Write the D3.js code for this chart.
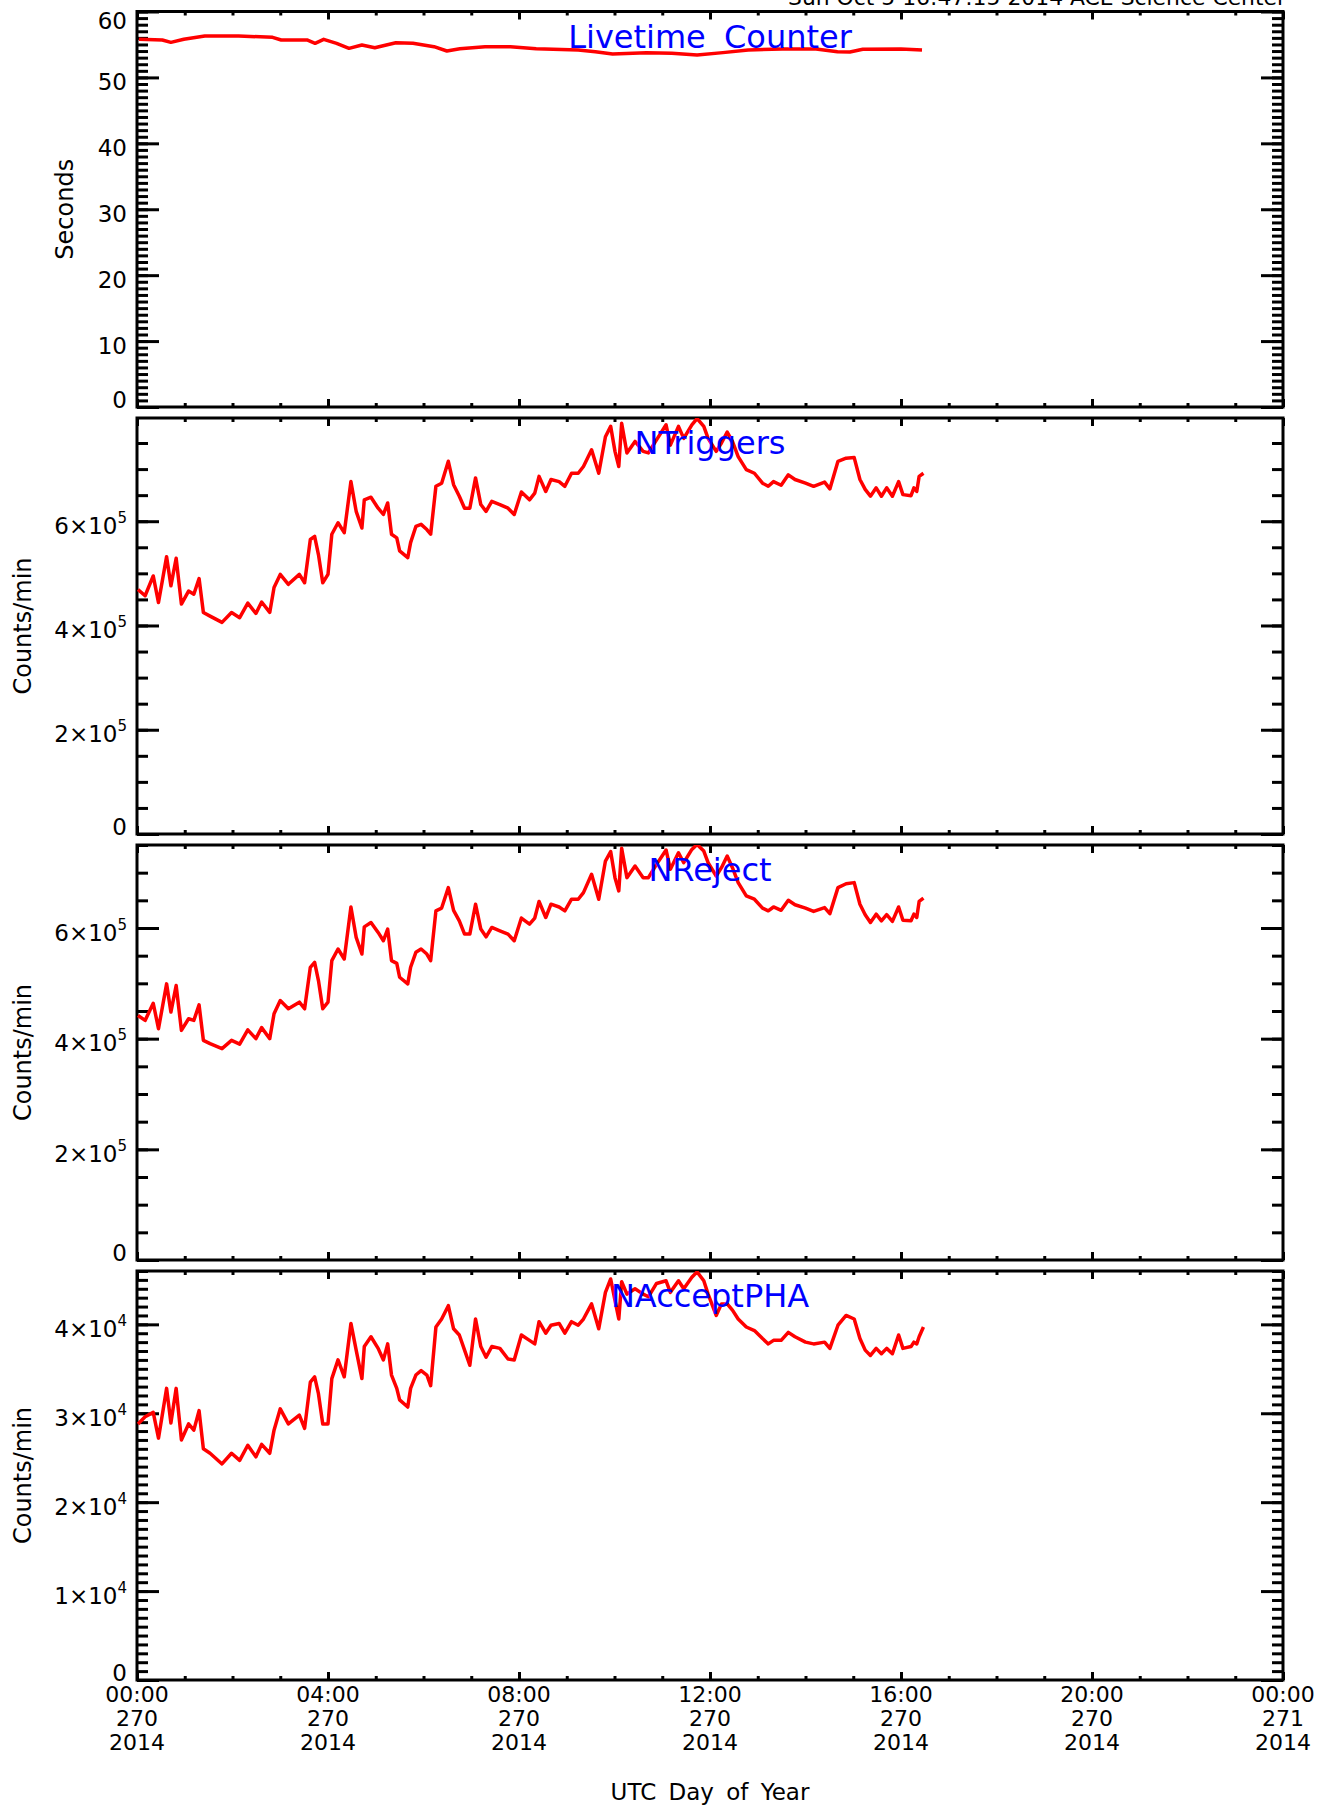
<!DOCTYPE html>
<html>
<head>
<meta charset="utf-8">
<script src="https://cdn.jsdelivr.net/npm/d3@7"></script>
<style>
  body { margin: 0; background: #fff; }
  text { font-family: "DejaVu Sans", sans-serif; }
</style>
</head>
<body>
<div id="chart"></div>
<script>
// Livetime counter samples (hours since 00:00 day 270)
const liveHours = [0.04, 0.53, 0.71, 0.98, 1.42, 2.13, 2.84, 3.02, 3.56, 3.73, 3.91, 4.18, 4.44, 4.71, 4.98,
  5.42, 5.78, 6.22, 6.49, 6.76, 7.29, 7.82, 8.36, 9.24, 9.6, 9.96, 10.67, 11.2, 11.73, 12.27, 12.8, 13.51,
  14.22, 14.67, 14.93, 15.2, 16.0, 16.44];
const liveSeconds = [55.78, 55.68, 55.32, 55.78, 56.28, 56.28, 56.08, 55.68, 55.68, 55.17, 55.78, 55.17, 54.41,
  54.92, 54.51, 55.27, 55.17, 54.66, 54.01, 54.36, 54.66, 54.66, 54.36, 54.16, 53.91, 53.55, 53.76, 53.65,
  53.40, 53.76, 54.16, 54.31, 54.31, 53.91, 53.86, 54.26, 54.31, 54.16];

// count-rate samples (hours), shared by the three count panels
const countHours = [0.02, 0.17, 0.34, 0.45, 0.62, 0.71, 0.82, 0.93, 1.08, 1.19, 1.30, 1.39, 1.53, 1.78, 1.98,
  2.15, 2.32, 2.49, 2.61, 2.78, 2.87, 3.00, 3.17, 3.40, 3.51, 3.63, 3.72, 3.80, 3.89, 4.00, 4.08, 4.21, 4.34,
  4.48, 4.59, 4.71, 4.76, 4.90, 5.05, 5.16, 5.25, 5.33, 5.44, 5.50, 5.67, 5.73, 5.84, 5.95, 6.07, 6.15, 6.26,
  6.38, 6.52, 6.63, 6.75, 6.86, 6.97, 7.09, 7.20, 7.31, 7.43, 7.60, 7.77, 7.90, 8.05, 8.22, 8.33, 8.42, 8.56,
  8.67, 8.84, 8.96, 9.10, 9.24, 9.35, 9.52, 9.67, 9.81, 9.92, 10.01, 10.09, 10.15, 10.26, 10.43, 10.60, 10.71,
  10.88, 11.08, 11.17, 11.34, 11.45, 11.62, 11.73, 11.87, 11.96, 12.13, 12.24, 12.36, 12.47, 12.59, 12.76,
  12.93, 13.10, 13.22, 13.33, 13.49, 13.64, 13.78, 14.00, 14.17, 14.40, 14.51, 14.68, 14.85, 15.02, 15.14,
  15.25, 15.36, 15.48, 15.59, 15.70, 15.82, 15.95, 16.04, 16.21, 16.27, 16.33, 16.38, 16.47];

const nTriggers = [4.69e5, 4.57e5, 4.95e5, 4.44e5, 5.32e5, 4.76e5, 5.29e5, 4.41e5, 4.66e5, 4.60e5, 4.90e5, 4.25e5,
  4.18e5, 4.06e5, 4.25e5, 4.15e5, 4.43e5, 4.23e5, 4.45e5, 4.25e5, 4.73e5, 4.98e5, 4.79e5, 4.98e5, 4.82e5, 5.65e5,
  5.71e5, 5.36e5, 4.82e5, 4.98e5, 5.75e5, 5.97e5, 5.78e5, 6.76e5, 6.19e5, 5.87e5, 6.41e5, 6.46e5, 6.25e5, 6.13e5,
  6.35e5, 5.75e5, 5.68e5, 5.43e5, 5.30e5, 5.59e5, 5.90e5, 5.94e5, 5.84e5, 5.75e5, 6.67e5, 6.73e5, 7.15e5, 6.70e5,
  6.48e5, 6.25e5, 6.25e5, 6.83e5, 6.32e5, 6.19e5, 6.38e5, 6.32e5, 6.25e5, 6.13e5, 6.56e5, 6.41e5, 6.54e5, 6.86e5,
  6.57e5, 6.80e5, 6.76e5, 6.67e5, 6.92e5, 6.92e5, 7.05e5, 7.37e5, 6.92e5, 7.62e5, 7.82e5, 7.34e5, 7.05e5, 7.88e5,
  7.31e5, 7.53e5, 7.34e5, 7.31e5, 7.56e5, 7.85e5, 7.46e5, 7.82e5, 7.59e5, 7.85e5, 7.97e5, 7.82e5, 7.59e5, 7.34e5,
  7.50e5, 7.71e5, 7.53e5, 7.24e5, 6.99e5, 6.92e5, 6.73e5, 6.67e5, 6.76e5, 6.69e5, 6.89e5, 6.80e5, 6.73e5, 6.67e5,
  6.75e5, 6.62e5, 7.15e5, 7.21e5, 7.22e5, 6.80e5, 6.61e5, 6.48e5, 6.64e5, 6.48e5, 6.64e5, 6.48e5, 6.76e5, 6.51e5,
  6.49e5, 6.64e5, 6.57e5, 6.86e5, 6.92e5];

const nReject = [4.42e5, 4.33e5, 4.64e5, 4.18e5, 4.99e5, 4.48e5, 4.96e5, 4.15e5, 4.36e5, 4.33e5, 4.61e5, 3.97e5,
  3.91e5, 3.82e5, 3.97e5, 3.90e5, 4.16e5, 4.00e5, 4.20e5, 4.00e5, 4.45e5, 4.69e5, 4.54e5, 4.66e5, 4.54e5, 5.29e5,
  5.38e5, 5.05e5, 4.54e5, 4.66e5, 5.41e5, 5.62e5, 5.44e5, 6.38e5, 5.83e5, 5.53e5, 6.02e5, 6.10e5, 5.92e5, 5.77e5,
  5.98e5, 5.41e5, 5.36e5, 5.11e5, 4.99e5, 5.29e5, 5.56e5, 5.62e5, 5.53e5, 5.41e5, 6.31e5, 6.36e5, 6.73e5, 6.32e5,
  6.13e5, 5.89e5, 5.89e5, 6.43e5, 5.98e5, 5.84e5, 6.01e5, 5.95e5, 5.89e5, 5.77e5, 6.18e5, 6.07e5, 6.18e5, 6.48e5,
  6.19e5, 6.43e5, 6.38e5, 6.31e5, 6.52e5, 6.52e5, 6.64e5, 6.97e5, 6.52e5, 7.21e5, 7.38e5, 6.91e5, 6.67e5, 7.44e5,
  6.91e5, 7.12e5, 6.91e5, 6.91e5, 7.15e5, 7.41e5, 7.06e5, 7.36e5, 7.18e5, 7.42e5, 7.51e5, 7.39e5, 7.18e5, 6.94e5,
  7.09e5, 7.30e5, 7.09e5, 6.82e5, 6.58e5, 6.52e5, 6.36e5, 6.31e5, 6.38e5, 6.32e5, 6.50e5, 6.42e5, 6.36e5, 6.30e5,
  6.37e5, 6.26e5, 6.73e5, 6.80e5, 6.82e5, 6.43e5, 6.24e5, 6.10e5, 6.25e5, 6.13e5, 6.24e5, 6.12e5, 6.38e5, 6.14e5,
  6.13e5, 6.25e5, 6.19e5, 6.48e5, 6.54e5];

const nAcceptPHA = [2.88e4, 2.96e4, 3.01e4, 2.72e4, 3.28e4, 2.89e4, 3.28e4, 2.70e4, 2.88e4, 2.81e4, 3.03e4, 2.60e4,
  2.55e4, 2.43e4, 2.55e4, 2.47e4, 2.64e4, 2.51e4, 2.65e4, 2.55e4, 2.81e4, 3.05e4, 2.88e4, 2.98e4, 2.83e4, 3.35e4,
  3.41e4, 3.22e4, 2.88e4, 2.88e4, 3.39e4, 3.60e4, 3.41e4, 4.01e4, 3.71e4, 3.39e4, 3.75e4, 3.86e4, 3.73e4, 3.60e4,
  3.78e4, 3.43e4, 3.28e4, 3.15e4, 3.07e4, 3.28e4, 3.43e4, 3.48e4, 3.43e4, 3.31e4, 3.97e4, 4.06e4, 4.21e4, 3.95e4,
  3.88e4, 3.71e4, 3.54e4, 4.06e4, 3.75e4, 3.63e4, 3.75e4, 3.73e4, 3.61e4, 3.60e4, 3.88e4, 3.82e4, 3.78e4, 4.03e4,
  3.90e4, 3.99e4, 4.01e4, 3.90e4, 4.03e4, 3.99e4, 4.06e4, 4.23e4, 3.95e4, 4.36e4, 4.51e4, 4.27e4, 4.06e4, 4.48e4,
  4.34e4, 4.40e4, 4.34e4, 4.31e4, 4.46e4, 4.49e4, 4.36e4, 4.49e4, 4.40e4, 4.53e4, 4.59e4, 4.49e4, 4.34e4, 4.10e4,
  4.23e4, 4.23e4, 4.16e4, 4.06e4, 3.97e4, 3.93e4, 3.84e4, 3.78e4, 3.82e4, 3.82e4, 3.91e4, 3.86e4, 3.80e4, 3.78e4,
  3.80e4, 3.73e4, 3.99e4, 4.10e4, 4.06e4, 3.84e4, 3.71e4, 3.65e4, 3.73e4, 3.67e4, 3.73e4, 3.67e4, 3.88e4, 3.73e4,
  3.75e4, 3.80e4, 3.78e4, 3.86e4, 3.97e4];

// x tick labels
const xTickHours = [0, 4, 8, 12, 16, 20, 24];
const xTickTimes = ['00:00', '04:00', '08:00', '12:00', '16:00', '20:00', '00:00'];
const xTickDays = ['270', '270', '270', '270', '270', '270', '271'];
const xTickYears = ['2014', '2014', '2014', '2014', '2014', '2014', '2014'];

const panelTitles = ['Livetime Counter', 'NTriggers', 'NReject', 'NAcceptPHA'];
const panelYTitles = ['Seconds', 'Counts/min', 'Counts/min', 'Counts/min'];

let width = 1333, height = 1806;
let left = 137, right = 1283;

let svg = d3.select('#chart')
  .append('svg')
  .attr('width', width)
  .attr('height', height);

svg.append('rect').attr('width', width).attr('height', height).attr('fill', 'white');

let xScale = d3.scaleLinear().domain([0, 24]).range([left, right]);

// panel layout + axis settings
let panels = [
  {top: 11.5, bottom: 407, max: 60, major: 10, minor: 1, exp: 0, ytx: 65, x: liveHours, y: liveSeconds},
  {top: 418, bottom: 834, max: 7.98e5, major: 2e5, minor: 5e4, exp: 5, ytx: 23, x: countHours, y: nTriggers},
  {top: 845, bottom: 1260, max: 7.5e5, major: 2e5, minor: 5e4, exp: 5, ytx: 23, x: countHours, y: nReject},
  {top: 1271, bottom: 1680, max: 4.6e4, major: 1e4, minor: 1e3, exp: 4, ytx: 23, x: countHours, y: nAcceptPHA}
];

function styleAxis(g) {
  g.select('.domain').remove();
  g.selectAll('line').attr('stroke', 'black').attr('stroke-width', 3);
}

panels.forEach(function(p, i) {
  let yScale = d3.scaleLinear().domain([0, p.max]).range([p.bottom, p.top]);
  let g = svg.append('g');

  // ticks only inside the axis range
  let limit = p.max * 1.0001;
  let minorY = d3.range(0, limit, p.minor);
  let majorY = d3.range(0, limit, p.major);
  let minorX = d3.range(0, 25, 1);
  let majorX = d3.range(0, 25, 4);

  // left / right ticks pointing inward
  g.append('g').attr('transform', `translate(${left},0)`)
    .call(d3.axisRight(yScale).tickValues(minorY).tickSize(11).tickFormat('')).call(styleAxis);
  g.append('g').attr('transform', `translate(${left},0)`)
    .call(d3.axisRight(yScale).tickValues(majorY).tickSize(22).tickFormat('')).call(styleAxis);
  g.append('g').attr('transform', `translate(${right},0)`)
    .call(d3.axisLeft(yScale).tickValues(minorY).tickSize(11).tickFormat('')).call(styleAxis);
  g.append('g').attr('transform', `translate(${right},0)`)
    .call(d3.axisLeft(yScale).tickValues(majorY).tickSize(22).tickFormat('')).call(styleAxis);

  // top / bottom ticks
  g.append('g').attr('transform', `translate(0,${p.top})`)
    .call(d3.axisBottom(xScale).tickValues(minorX).tickSize(4).tickFormat('')).call(styleAxis);
  g.append('g').attr('transform', `translate(0,${p.top})`)
    .call(d3.axisBottom(xScale).tickValues(majorX).tickSize(8).tickFormat('')).call(styleAxis);
  g.append('g').attr('transform', `translate(0,${p.bottom})`)
    .call(d3.axisTop(xScale).tickValues(minorX).tickSize(4).tickFormat('')).call(styleAxis);
  g.append('g').attr('transform', `translate(0,${p.bottom})`)
    .call(d3.axisTop(xScale).tickValues(majorX).tickSize(8).tickFormat('')).call(styleAxis);

  // frame
  g.append('rect')
    .attr('x', left).attr('y', p.top)
    .attr('width', right - left).attr('height', p.bottom - p.top)
    .attr('fill', 'none').attr('stroke', 'black').attr('stroke-width', 3);

  // y tick labels
  majorY.forEach(function(v) {
    let cy = Math.min(Math.max(yScale(v) + 4, p.top + 9), p.bottom - 8);
    let t = g.append('text')
      .attr('x', 127).attr('y', cy + 8.5)
      .attr('text-anchor', 'end')
      .attr('font-size', 23);
    if (v === 0 || p.exp === 0) {
      t.text(v === 0 ? '0' : String(v));
    } else {
      t.append('tspan').text(Math.round(v / Math.pow(10, p.exp)) + '×10');
      t.append('tspan').attr('font-size', 15).attr('dy', -11).text(p.exp);
    }
  });

  // y axis title
  g.append('text')
    .attr('transform', `translate(${p.ytx},${(p.top + p.bottom) / 2}) rotate(-90)`)
    .attr('text-anchor', 'middle')
    .attr('dominant-baseline', 'central')
    .attr('font-size', 24)
    .text(panelYTitles[i]);

  // data line
  let clipId = 'clip' + i;
  svg.append('clipPath').attr('id', clipId)
    .append('rect')
    .attr('x', left).attr('y', p.top)
    .attr('width', right - left).attr('height', p.bottom - p.top);

  let line = d3.line()
    .x(function(d) { return xScale(d[0]); })
    .y(function(d) { return yScale(d[1]); });

  svg.append('path')
    .datum(d3.zip(p.x, p.y))
    .attr('clip-path', `url(#${clipId})`)
    .attr('d', line)
    .attr('fill', 'none')
    .attr('stroke', '#ff0000')
    .attr('stroke-width', 3.5)
    .attr('stroke-linejoin', 'round');

  // panel title
  svg.append('text')
    .attr('x', (left + right) / 2).attr('y', p.top + 36)
    .attr('text-anchor', 'middle')
    .attr('font-size', 32)
    .attr('fill', '#0000ff')
    .attr('word-spacing', 8)
    .text(panelTitles[i]);
});

// x tick labels under the last panel
let bottomY = panels[3].bottom;
xTickHours.forEach(function(h, i) {
  let t = svg.append('text')
    .attr('text-anchor', 'middle')
    .attr('font-size', 22);
  [xTickTimes[i], xTickDays[i], xTickYears[i]].forEach(function(s, k) {
    t.append('tspan').attr('x', xScale(h)).attr('y', bottomY + 22 + k * 24).text(s);
  });
});

svg.append('text')
  .attr('x', (left + right) / 2).attr('y', 1800)
  .attr('text-anchor', 'middle')
  .attr('font-size', 23)
  .attr('word-spacing', 5)
  .text('UTC Day of Year');

// header, cut off at the top edge
svg.append('text')
  .attr('x', 788).attr('y', 5)
  .attr('font-size', 22)
  .attr('textLength', 498)
  .attr('lengthAdjust', 'spacingAndGlyphs')
  .text('Sun Oct  5 16:47:15 2014 ACE Science Center');
</script>
</body>
</html>
